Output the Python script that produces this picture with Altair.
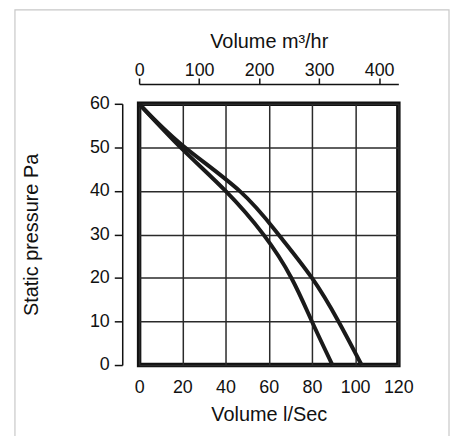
import altair as alt
import pandas as pd

# Fan curves: volume (l/s) at pressure levels (Pa)
inner_q = [0, 20, 40, 57.5, 70.5, 80, 89.5]
inner_p = [60, 49.6, 40, 30, 20, 10, 0]
outer_q = [0, 20, 46.5, 64.5, 80, 92.3, 103]
outer_p = [60, 50.5, 40, 30, 20, 10, 0]

x_ticks = [0, 20, 40, 60, 80, 100, 120]
y_ticks = [0, 10, 20, 30, 40, 50, 60]
top_ticks = [0, 100, 200, 300, 400]

FONT = "Liberation Sans"

curves = pd.DataFrame(
    {"q": inner_q + outer_q,
     "p": inner_p + outer_p,
     "fan": ["A"] * len(inner_q) + ["B"] * len(outer_q)}
)
top_df = pd.DataFrame({"m3": top_ticks})
frame_df = pd.DataFrame({"k": [0]})

lines = alt.Chart(curves).mark_line(
    color="#1a1a1a", strokeWidth=4, interpolate="natural"
).encode(
    x=alt.X("q:Q", scale=alt.Scale(domain=[0, 120], nice=False),
            axis=alt.Axis(values=x_ticks, title="Volume l/Sec", orient="bottom",
                          domain=False, ticks=False, labelPadding=14,
                          titlePadding=8, grid=True)),
    y=alt.Y("p:Q", scale=alt.Scale(domain=[0, 60], nice=False),
            axis=alt.Axis(values=y_ticks, title="Static pressure Pa", offset=17,
                          domain=True, ticks=True, tickSize=8, labelPadding=5,
                          titlePadding=48, grid=True)),
    detail="fan:N",
)

top = alt.Chart(top_df).mark_point(opacity=0).encode(
    x=alt.X("m3:Q", scale=alt.Scale(domain=[0, 432], nice=False),
            axis=alt.Axis(values=top_ticks, title="Volume m³/hr", orient="top",
                          offset=20, domain=True, ticks=True, tickSize=6,
                          labelPadding=-2, titlePadding=11, grid=False)),
    y=alt.value(0),
)

frame = alt.Chart(frame_df).mark_rect(
    fill=None, stroke="#c8c8c8", strokeWidth=1.2
).encode(
    x=alt.value(-125), x2=alt.value(312), y=alt.value(-94.5), y2=alt.value(400)
)

chart = alt.layer(frame, lines, top).resolve_scale(x="independent").properties(
    width=261, height=263,
    background="white",
    autosize=alt.AutoSizeParams(type="none"),
    padding={"left": 132, "top": 95, "right": 52, "bottom": 70},
).configure_view(
    stroke="#111111", strokeWidth=4.5
).configure_axis(
    labelFont=FONT, titleFont=FONT, labelFontSize=18, titleFontSize=20,
    titleFontWeight="normal", labelColor="#111111", titleColor="#111111",
    domainColor="#111111", domainWidth=1.5, tickColor="#111111", tickWidth=1.5,
    gridColor="#2a2a2a", gridWidth=1.5, gridOpacity=1, labelFlush=False,
)

chart.save("out.html", embed_options={"renderer": "svg", "actions": False})
